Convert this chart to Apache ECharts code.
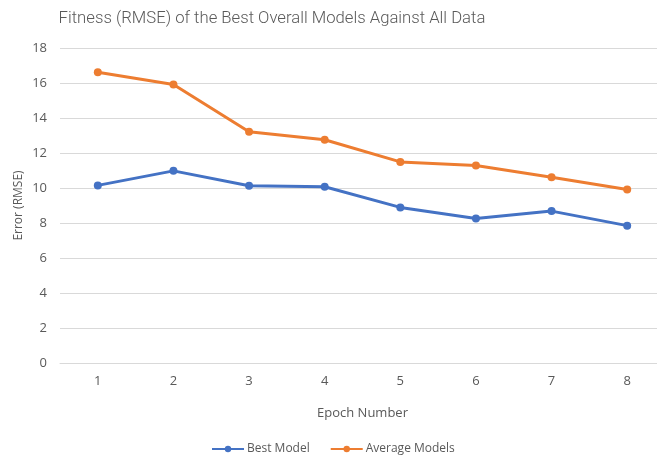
<!DOCTYPE html>
<html>
<head>
<meta charset="utf-8">
<script src="https://cdn.jsdelivr.net/npm/echarts@6/dist/echarts.min.js"></script>
<style>html,body{margin:0;padding:0;background:#fff;overflow:hidden;}#c{width:657px;height:459px;}</style>
</head>
<body>
<div id="c"></div>
<script>
var categories = ['1', '2', '3', '4', '5', '6', '7', '8'];
var bestModel = [10.15, 10.98, 10.13, 10.07, 8.89, 8.26, 8.68, 7.85];
var averageModels = [16.61, 15.92, 13.22, 12.76, 11.49, 11.28, 10.61, 9.92];
var yTicks = [0, 2, 4, 6, 8, 10, 12, 14, 16, 18];

var chart = echarts.init(document.getElementById('c'), null, {renderer: 'canvas'});
var font = "'Open Sans', sans-serif";
chart.setOption({
  animation: false,
  backgroundColor: '#fff',
  title: {
    text: 'Fitness (RMSE) of the Best Overall Models Against All Data',
    left: 267, top: 5, textAlign: 'center',
    textStyle: {fontFamily: "Roboto, sans-serif", fontSize: 16.7, fontWeight: 300, color: '#595959'}
  },
  legend: {
    left: 206, top: 438,
    itemWidth: 32, itemHeight: 8, itemGap: 20,
    textStyle: {fontFamily: font, fontSize: 12, color: '#595959', padding: [0,0,0,-2]},
    data: ['Best Model', 'Average Models']
  },
  grid: {left: 60, width: 605, top: 48, height: 315, containLabel: false, outerBoundsMode: 'none'},
  xAxis: {
    type: 'category', data: categories, boundaryGap: true,
    name: 'Epoch Number', nameLocation: 'middle', nameGap: 44, nameMoveOverlap: false,
    nameTextStyle: {fontFamily: font, fontSize: 13, color: '#595959'},
    axisLine: {lineStyle: {color: '#D9D9D9', width: 1}},
    axisTick: {show: false},
    axisLabel: {fontFamily: font, fontSize: 13, color: '#595959', margin: 12}
  },
  yAxis: {
    type: 'value', min: yTicks[0], max: yTicks[yTicks.length - 1], interval: 2,
    name: 'Error (RMSE)', nameLocation: 'middle', nameGap: 35, nameMoveOverlap: false,
    nameTextStyle: {fontFamily: font, fontSize: 12, color: '#595959'},
    axisLine: {show: false}, axisTick: {show: false},
    axisLabel: {fontFamily: font, fontSize: 13, color: '#595959', margin: 13},
    splitLine: {lineStyle: {color: '#D9D9D9', width: 1}}
  },
  series: [
    {name: 'Best Model', type: 'line', data: bestModel, color: '#4472C4',
     symbol: 'circle', symbolSize: 8, lineStyle: {width: 3}},
    {name: 'Average Models', type: 'line', data: averageModels, color: '#ED7D31',
     symbol: 'circle', symbolSize: 8, lineStyle: {width: 3}}
  ]
});
</script>
</body>
</html>
